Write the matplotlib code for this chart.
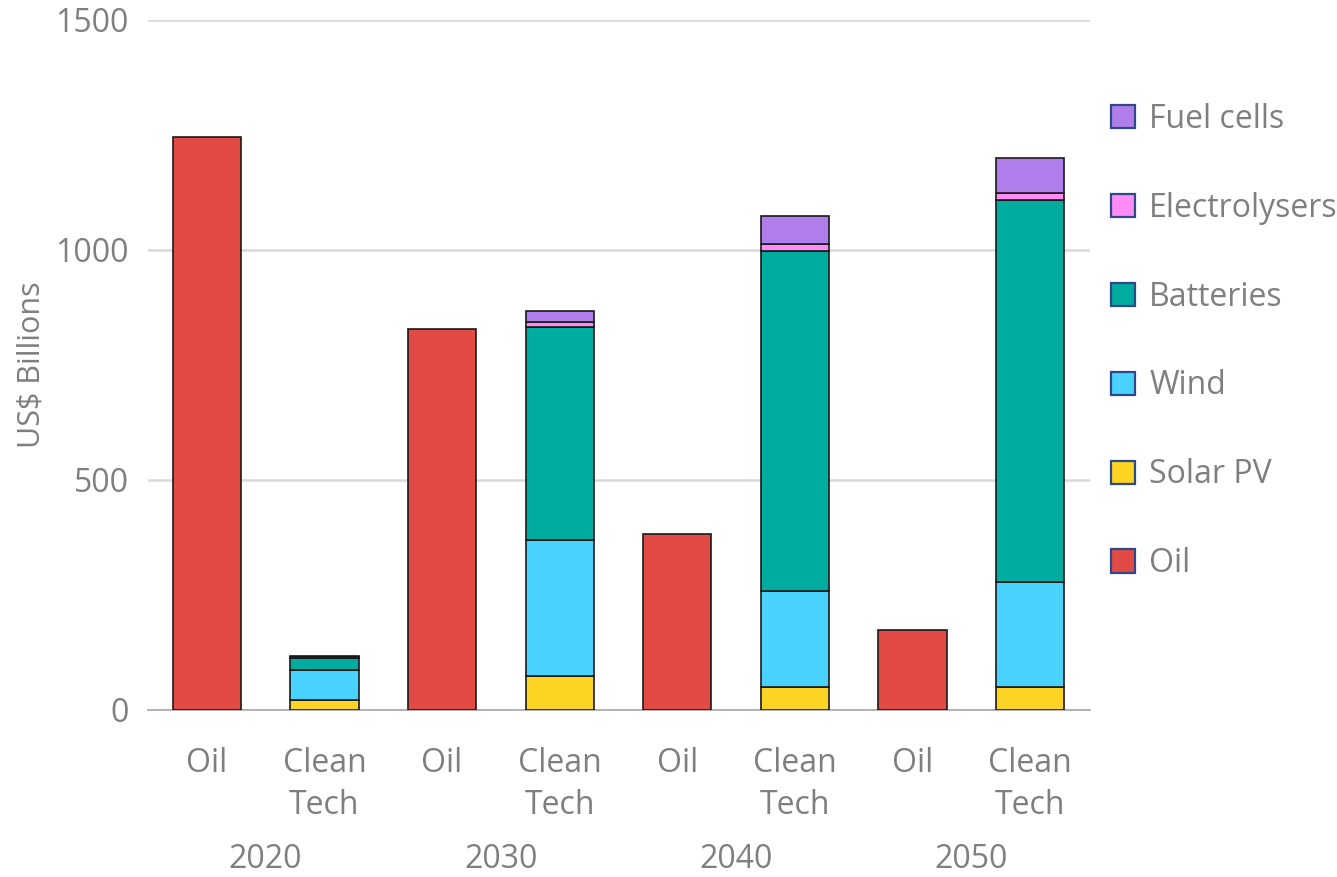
import matplotlib.pyplot as plt
import numpy as np
from matplotlib.patches import Patch
from matplotlib.transforms import blended_transform_factory

years = ["2020", "2030", "2040", "2050"]
bar_labels = ["Oil", "Clean\nTech"] * 4

oil = [1245, 828, 383, 174]
solar = [22, 74, 49, 50]
wind = [65, 296, 210, 228]
batteries = [26, 463, 739, 830]
electrolysers = [2, 10, 16, 15]
fuel_cells = [2, 24, 60, 77]

colors = {
    "Oil": "#E24A46",
    "Solar PV": "#FDD324",
    "Wind": "#4AD2FF",
    "Batteries": "#00AB9F",
    "Electrolysers": "#FF8CF5",
    "Fuel cells": "#B07EEA",
}
gray = "#7F7F7F"

plt.rcParams['font.family'] = ['Open Sans', 'DejaVu Sans']

fig = plt.figure(figsize=(13.37, 8.77), dpi=100)
ax = fig.add_axes([148 / 1337, 1 - 710 / 877, (1090 - 148) / 1337, 690 / 877])

x = np.arange(8)
oil_x = x[0::2]
clean_x = x[1::2]
w = 0.58
ec = "#1a1a1a"
lw = 1.2

ax.bar(oil_x, oil, w, color=colors["Oil"], edgecolor=ec, linewidth=lw, zorder=3)

bottom = np.zeros(4)
for name, vals in [("Solar PV", solar), ("Wind", wind), ("Batteries", batteries),
                   ("Electrolysers", electrolysers), ("Fuel cells", fuel_cells)]:
    ax.bar(clean_x, vals, w, bottom=bottom, color=colors[name], edgecolor=ec,
           linewidth=lw, zorder=3)
    bottom += np.array(vals)

ax.set_xlim(-0.5, 7.51)
ax.set_ylim(0, 1500)
ax.set_yticks([0, 500, 1000, 1500])
ax.yaxis.grid(True, color="#D9D9D9", linewidth=1.8, zorder=0)
ax.set_axisbelow(True)
for s in ["top", "right", "left"]:
    ax.spines[s].set_visible(False)
ax.spines["bottom"].set_color("#A6A6A6")
ax.spines["bottom"].set_linewidth(1.2)

ax.set_xticks(x)
ax.set_xticklabels(bar_labels, fontsize=23, color=gray, linespacing=1.35, va="top")
ax.tick_params(axis="x", length=0, pad=27)
ax.tick_params(axis="y", length=0, pad=14, labelsize=23, labelcolor=gray)

ax.set_ylabel("US$ Billions", fontsize=22, color=gray, labelpad=6)

trans = blended_transform_factory(ax.transData, fig.transFigure)
for i, yr in enumerate(years):
    ax.text(2 * i + 0.5, 1 - 860 / 877, yr, transform=trans, ha="center", va="center",
            fontsize=23, color=gray)

order = ["Fuel cells", "Electrolysers", "Batteries", "Wind", "Solar PV", "Oil"]
handles = [Patch(facecolor=colors[n], edgecolor="#2E4A86", linewidth=1.6) for n in order]
leg = fig.legend(handles, order, loc="upper left", bbox_to_anchor=(1098 / 1337, 1 - 90 / 877),
                 frameon=False, fontsize=23, labelcolor=gray, handlelength=0.75,
                 handleheight=0.75, handletextpad=0.45, labelspacing=1.75,
                 borderaxespad=0)

fig.savefig("out.png", dpi=100)
